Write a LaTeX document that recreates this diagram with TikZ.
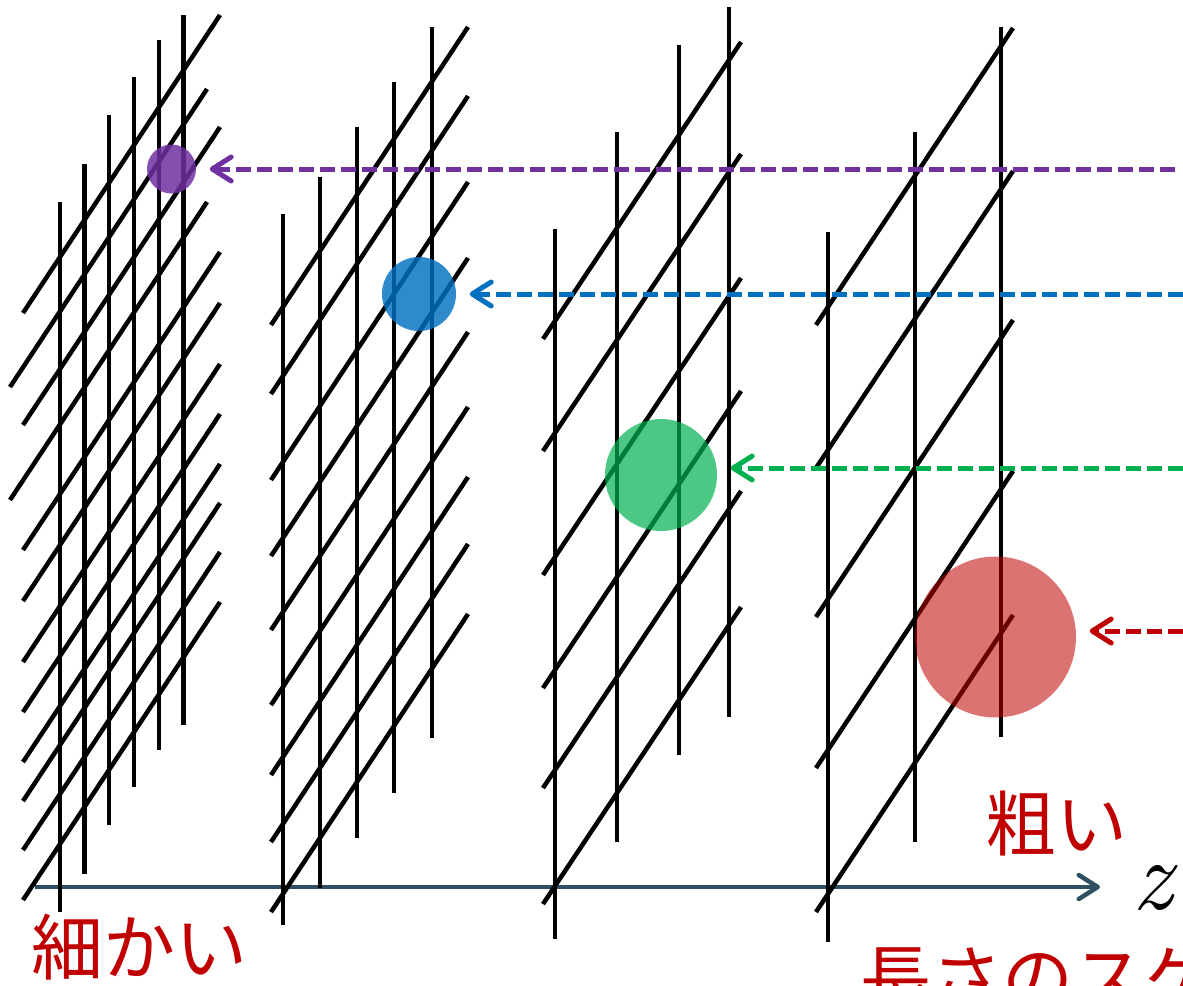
\documentclass[tikz,border=0pt]{standalone}
\usepackage{fontspec}
\newfontfamily\jpfont{Noto Sans CJK JP}
\usepackage{xcolor}
\definecolor{Mimorado}{RGB}{112,48,160}
\definecolor{Miazul}{RGB}{0,112,192}
\definecolor{Miverde}{RGB}{0,176,80}
\definecolor{Mirojo}{RGB}{192,0,0}
\definecolor{Mieje}{RGB}{47,79,99}
\usepackage{tikz}
\usetikzlibrary{arrows.meta, calc}

\begin{document}
\begin{tikzpicture}[
  x=1pt, y=-1pt,
  rod/.style={line width=4.5pt, draw=black},
  eje/.style={-{Straight Barb[length=19pt, width=24pt, round]},
              line width=4.5pt, draw=Mieje},
  probe/.style={-{Straight Barb[length=19pt, width=24pt, round]},
                dash pattern=on 15pt off 6pt, line width=5pt,
                draw=#1, shorten >=13.5pt},
  blob/.style={circle, inner sep=0pt, draw=none, fill=#1},
  lbl/.style={inner sep=0pt, text=Mirojo, anchor=base west,
              font=\jpfont\fontsize{72}{72}\selectfont}
]

%% ——— Marco ———
\useasboundingbox (0,0) rectangle (1183,985);
\clip (0,0) rectangle (1183,985);

%% ——— Eje z ———
\coordinate (e0) at (35,887);
\coordinate (e1) at (1100,887);
\draw[eje] (e0) -- (e1);

%% ——— Rejilla 1: fina ———
\draw[rod] (60,202) -- ++(0,710)  (84.5,164) -- ++(0,710)  (109,115) -- ++(0,710)
           (134,77) -- ++(0,710)  (159,40) -- ++(0,710)    (183.5,15) -- ++(0,710);
\draw[rod] (220,15) -- ++(-197,298)  (207,89) -- ++(-197,298)  (220,127) -- ++(-197,298)
           (207,202) -- ++(-197,298) (220,252) -- ++(-197,298) (220,303) -- ++(-197,298)
           (220,364) -- ++(-197,298) (220,414) -- ++(-197,298) (220,464) -- ++(-197,298)
           (220,503) -- ++(-197,298) (220,552) -- ++(-197,298) (220,602) -- ++(-197,298);

%% ——— Rejilla 2 ———
\draw[rod] (283,214) -- ++(0,711)  (320,177) -- ++(0,711)  (357,127) -- ++(0,711)
           (394,82) -- ++(0,711)   (432,27) -- ++(0,711);
\draw[rod] (468,27) -- ++(-197,298)  (468,96) -- ++(-197,298)  (468,182) -- ++(-197,298)
           (468,258) -- ++(-197,298) (468,332) -- ++(-197,298) (468,407) -- ++(-197,298)
           (468,477) -- ++(-197,298) (468,544) -- ++(-197,298) (468,614) -- ++(-197,298);

%% ——— Rejilla 3 ———
\draw[rod] (555,229) -- ++(0,710)  (617,132) -- ++(0,710)  (679,45) -- ++(0,710)
           (729,7) -- ++(0,710);
\draw[rod] (741,42) -- ++(-198,297)  (741,154) -- ++(-198,297)  (741,278) -- ++(-198,297)
           (741,391) -- ++(-198,297) (741,491) -- ++(-198,297)  (741,607) -- ++(-198,297);

%% ——— Rejilla 4: gruesa ———
\draw[rod] (828,232) -- ++(0,710)  (915,132) -- ++(0,710)  (1001,27) -- ++(0,710);
\draw[rod] (1013,28) -- ++(-197,297)  (1013,171) -- ++(-197,297)  (1013,320) -- ++(-197,297)
           (1013,471) -- ++(-197,297) (1013,615) -- ++(-197,297);

%% ——— Bolas ———
\node[blob=Mimorado, fill opacity=0.85, minimum size=49pt]  (bmor) at (171.5,169) {};
\node[blob=Miazul,   fill opacity=0.82, minimum size=74pt]  (bazu) at (419,294) {};
\node[blob=Miverde,  fill opacity=0.70, minimum size=112pt] (bver) at (661,475) {};
\node[blob=Mirojo,   fill opacity=0.55, minimum size=161pt] (broj) at (995.5,637) {};

%% ——— Flechas discontinuas ———
\coordinate (smor) at (1175,169);
\coordinate (sazu) at (1183,294);
\coordinate (sver) at (1183,468);
\coordinate (sroj) at (1183,631);
\draw[probe=Mimorado] (smor) -- (smor -| bmor.east);
\draw[probe=Miazul]   (sazu) -- (sazu -| bazu.east);
\draw[probe=Miverde]  (sver) -- (sver -| bver.east);
\draw[probe=Mirojo]   (sroj) -- (sroj -| broj.east);

%% ——— Textos ———
\node[lbl] (tfino)   at (31,974)   {細かい};
\node[lbl, font=\jpfont\fontsize{71}{71}\selectfont] (tgrueso) at (985,850) {粗い};
\node[lbl, font=\jpfont\fontsize{71}{71}\selectfont] (tescala) at (860,1004) {長さのスケ};
\node[inner sep=0pt, font=\fontsize{100}{100}\selectfont\itshape] (tz) at (1152,888) {z};

\end{tikzpicture}
\end{document}
